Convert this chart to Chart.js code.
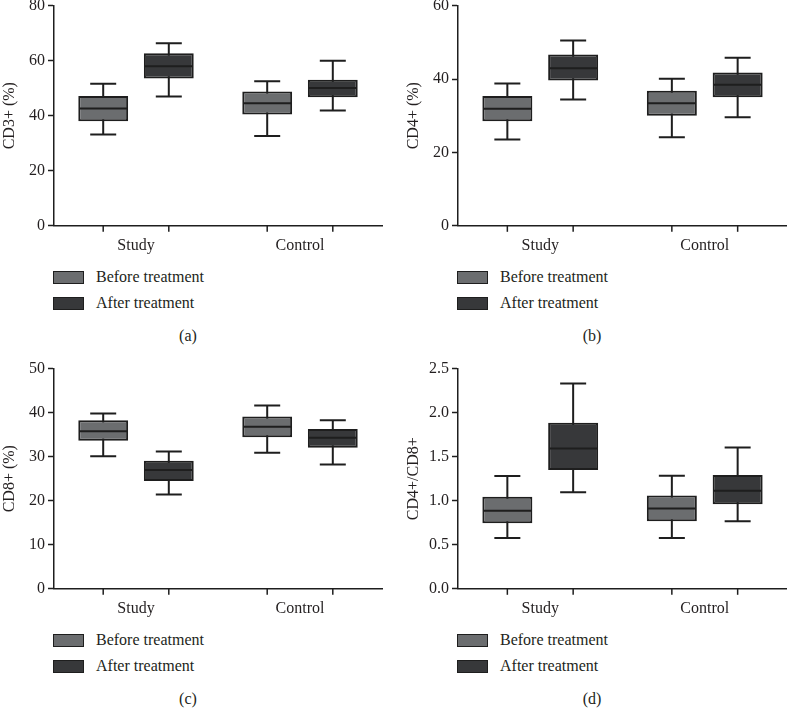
<!DOCTYPE html>
<html lang="en">
<head>
  <meta charset="UTF-8" />
  <title>T-lymphocyte subsets before and after treatment</title>
  <script src="https://cdn.jsdelivr.net/npm/chart.js"></script>
  <style>
    body {
      margin: 0;
      background: #fff;
      width: 787px;
      height: 708px;
      overflow: hidden;
      position: relative;
      font-family: 'Liberation Serif', 'Times New Roman', serif;
      color: #231f20;
    }
    .panel {
      position: absolute;
    }
    .panel canvas {
      position: absolute;
    }
    .legend {
      position: absolute;
      font-size: 16px;
    }
    .legend-item {
      position: relative;
      height: 26px;
    }
    .legend-item span.box {
      position: absolute;
      left: 0;
      top: 0;
      width: 29px;
      height: 11px;
      border: 1.5px solid #1e1e1e;
    }
    .legend-item span.txt {
      position: absolute;
      left: 43px;
      top: -3px;
      white-space: nowrap;
    }
    .caption {
      position: absolute;
      font-size: 16px;
      transform: translateX(-50%);
    }
  </style>
</head>
<body>
  <div id="panels"></div>

  <script>
    // categories and series
    const groups = ['Study', 'Control'];
    const seriesLabels = ['Before treatment', 'After treatment'];
    const seriesColors = ['#6b6d6f', '#37383a'];

    // each box: [min, q1, median, q3, max], one per group
    const cd3Before = [[33.2, 38.0, 42.6, 47.2, 51.6], [32.6, 40.4, 44.5, 48.8, 52.5]];
    const cd3After  = [[47.0, 53.5, 58.0, 62.7, 66.3], [41.9, 46.7, 50.1, 53.1, 60.0]];

    const cd4Before = [[23.5, 28.5, 31.9, 35.4, 38.8], [24.1, 30.0, 33.4, 36.8, 40.1]];
    const cd4After  = [[34.4, 39.6, 42.9, 46.7, 50.5], [29.6, 35.0, 38.4, 41.8, 45.8]];

    const cd8Before = [[30.1, 33.6, 35.8, 38.3, 39.8], [30.9, 34.4, 36.8, 39.1, 41.6]];
    const cd8After  = [[21.4, 24.5, 27.0, 29.1, 31.2], [28.2, 32.0, 34.3, 36.3, 38.3]];

    const ratioBefore = [[0.576, 0.745, 0.885, 1.046, 1.28], [0.576, 0.768, 0.911, 1.058, 1.284]];
    const ratioAfter  = [[1.096, 1.348, 1.593, 1.886, 2.33], [0.768, 0.96, 1.114, 1.292, 1.605]];

    // y axis ranges
    const yMaxes = [80, 60, 50, 2.5];
    const ySteps = [20, 20, 10, 0.5];
    const yTitles = ['CD3+ (%)', 'CD4+ (%)', 'CD8+ (%)', 'CD4+/CD8+'];
    const captions = ['(a)', '(b)', '(c)', '(d)'];

    const FONT = { family: "'Liberation Serif', 'Times New Roman', serif", size: 16 };
    const INK = '#231f20';
    const LINE = '#1e1e1e';

    // whiskers, medians and x tick marks for the box plots
    const boxPlot = {
      id: 'boxPlot',
      beforeDatasetsDraw(chart) {
        const ctx = chart.ctx;
        const y = chart.scales.y;
        ctx.save();
        ctx.strokeStyle = LINE;
        ctx.lineWidth = 2;
        chart.data.datasets.forEach((ds, i) => {
          chart.getDatasetMeta(i).data.forEach((bar, j) => {
            const s = ds.stats[j];
            const cap = 13;
            const top = y.getPixelForValue(s[4]);
            const bot = y.getPixelForValue(s[0]);
            ctx.beginPath();
            ctx.moveTo(bar.x, top);
            ctx.lineTo(bar.x, bot);
            ctx.moveTo(bar.x - cap, top);
            ctx.lineTo(bar.x + cap, top);
            ctx.moveTo(bar.x - cap, bot);
            ctx.lineTo(bar.x + cap, bot);
            ctx.stroke();
          });
        });
        ctx.restore();
      },
      afterDatasetsDraw(chart) {
        const ctx = chart.ctx;
        const y = chart.scales.y;
        const area = chart.chartArea;
        ctx.save();
        ctx.strokeStyle = LINE;
        chart.data.datasets.forEach((ds, i) => {
          chart.getDatasetMeta(i).data.forEach((bar, j) => {
            const med = y.getPixelForValue(ds.stats[j][2]);
            const half = bar.width / 2;
            ctx.lineWidth = 2;
            ctx.beginPath();
            ctx.moveTo(bar.x - half + 1, med);
            ctx.lineTo(bar.x + half - 1, med);
            ctx.stroke();
            // tick under each box
            ctx.lineWidth = 1.5;
            ctx.beginPath();
            ctx.moveTo(bar.x, area.bottom);
            ctx.lineTo(bar.x, area.bottom + 6);
            ctx.stroke();
          });
        });
        ctx.restore();
      }
    };

    function makePanel(idx, before, after, left, top, width, padRight) {
      const panel = document.createElement('div');
      panel.className = 'panel';
      panel.style.left = left + 'px';
      panel.style.top = top + 'px';
      document.getElementById('panels').appendChild(panel);

      const canvas = document.createElement('canvas');
      canvas.width = width;
      canvas.height = 267;
      canvas.style.width = width + 'px';
      canvas.style.height = '267px';
      canvas.style.top = '-7px';
      panel.appendChild(canvas);

      const series = [before, after];
      const decimals = ySteps[idx] < 1 ? 1 : 0;

      new Chart(canvas, {
        type: 'bar',
        data: {
          labels: groups,
          datasets: series.map((s, k) => ({
            label: seriesLabels[k],
            data: s.map(b => [b[1], b[3]]),
            stats: s,
            backgroundColor: seriesColors[k],
            borderColor: LINE,
            borderWidth: 2,
            borderSkipped: false,
            categoryPercentage: 0.8,
            barPercentage: 0.76
          }))
        },
        options: {
          responsive: false,
          animation: false,
          events: [],
          layout: { padding: { top: 0, right: padRight, bottom: 3, left: 0 } },
          plugins: {
            legend: { display: false },
            tooltip: { enabled: false }
          },
          scales: {
            x: {
              grid: { display: false },
              border: { color: LINE, width: 1.5 },
              ticks: { font: FONT, color: INK, padding: 2 }
            },
            y: {
              min: 0,
              max: yMaxes[idx],
              afterFit(scale) { scale.width = 54; },
              ticks: {
                stepSize: ySteps[idx],
                font: FONT,
                color: INK,
                padding: 3,
                callback: v => Number(v).toFixed(decimals)
              },
              grid: {
                drawOnChartArea: false,
                tickLength: 6,
                tickColor: LINE,
                tickWidth: 1.5
              },
              border: { color: LINE, width: 1.5 },
              title: {
                display: true,
                text: yTitles[idx],
                font: FONT,
                color: INK,
                padding: { top: 0, bottom: 0 }
              }
            }
          }
        },
        plugins: [boxPlot]
      });

      // legend
      const legend = document.createElement('div');
      legend.className = 'legend';
      legend.style.left = '53px';
      legend.style.top = '271px';
      seriesLabels.forEach((lab, k) => {
        const item = document.createElement('div');
        item.className = 'legend-item';
        const box = document.createElement('span');
        box.className = 'box';
        box.style.background = seriesColors[k];
        const txt = document.createElement('span');
        txt.className = 'txt';
        txt.textContent = lab;
        item.appendChild(box);
        item.appendChild(txt);
        legend.appendChild(item);
      });
      panel.appendChild(legend);

      const cap = document.createElement('div');
      cap.className = 'caption';
      cap.style.left = '188px';
      cap.style.top = '327px';
      cap.textContent = captions[idx];
      panel.appendChild(cap);
    }

    makePanel(0, cd3Before, cd3After, 0, 0, 393, 11);
    makePanel(1, cd4Before, cd4After, 404, 0, 383, 0);
    makePanel(2, cd8Before, cd8After, 0, 363, 393, 11);
    makePanel(3, ratioBefore, ratioAfter, 404, 363, 383, 0);
  </script>
</body>
</html>
